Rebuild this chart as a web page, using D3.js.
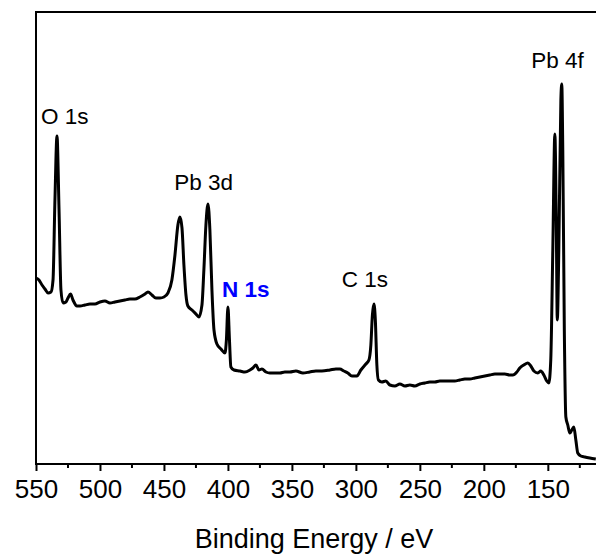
<!DOCTYPE html>
<html>
<head>
<meta charset="utf-8">
<script src="https://cdn.jsdelivr.net/npm/d3@7"></script>
<style>
  body { margin: 0; background: #fff; }
  svg text { font-family: Arial, "Liberation Sans", sans-serif; }
</style>
</head>
<body>
<div id="chart"></div>
<script>
// XPS survey spectrum, intensity in arbitrary units
const bindingEnergy = [
  550, 547.7, 545.3, 543, 540.6, 538.3, 536.7, 535.2, 533.6, 532, 530.5, 528.9, 526.6, 525, 523, 521.1,
  518, 515.6, 511.7, 507.8, 503.9, 500, 496.1, 492.2, 488.3, 484.4, 480.5, 476.6, 472.7, 468.8, 464.8,
  462.5, 459.4, 456.3, 453.1, 450, 446.9, 443.8, 441.4, 439.1, 437.5, 435.9, 434.4, 432.8, 431.3, 428.1,
  425, 422.7, 420.3, 418.8, 417.2, 415.6, 414.1, 412.5, 410.9, 408.6, 405.5, 402.3, 401.2, 400, 398.8,
  397.7, 395.3, 390.6, 386.7, 382.8, 380.5, 378.1, 375.8, 373.4, 370.3, 367.2, 363.3, 359.4, 355.5,
  351.6, 346.9, 341.4, 336.1, 331.3, 326.6, 320.3, 315.6, 312.5, 309.4, 306.3, 303.1, 299.2, 296.1,
  292.2, 289.8, 288.3, 287.1, 285.9, 284.8, 283.6, 282.4, 279.7, 276.6, 273.4, 269.5, 265.6, 261.7,
  257.8, 253.9, 250, 246.1, 242.2, 238.3, 234.4, 230.5, 226.6, 222.7, 218.8, 214.8, 210.9, 207, 203.1,
  199.2, 195.3, 191.4, 187.5, 183.6, 179.7, 177.3, 174.2, 171.9, 168.8, 165.6, 163.3, 160.9, 157.8,
  155.5, 153.1, 150.8, 149.2, 147.7, 146.1, 144.5, 143.4, 142.6, 141.4, 139.8, 139.1, 138.3, 137.1,
  135.9, 134.4, 132.8, 131.3, 129.7, 128.1, 126.6, 124.2, 121.1, 117.2, 112.5
];
const intensity = [
  46.5, 46, 44.75, 43.75, 42.75, 43, 46, 66, 82, 63.5, 43.5, 40.25, 40.5, 41.5, 42.5, 41,
  39.5, 39.5, 39.75, 40, 40, 40.5, 40.75, 40.25, 40.5, 40.75, 41, 41.25, 41.25, 41.75, 42.5,
  43, 42.25, 41.5, 41.5, 41.75, 42.75, 46, 52.25, 59.75, 61.75, 59, 49.75, 42.25, 39.5, 38.5,
  37.5, 36.75, 39.75, 48.5, 59.75, 65, 58.5, 43.5, 33.5, 30, 28.75, 27.75, 31, 39.25, 31,
  24.25, 23.5, 23.25, 23, 23.5, 24, 24.75, 23.5, 23.75, 23, 22.75, 22.75, 22.75, 23,
  23, 23.25, 22.75, 23, 23.25, 23.25, 23.5, 23.75, 23.75, 23.25, 22.75, 22, 22, 23.5,
  25, 26, 29.75, 37.25, 40, 36, 24.75, 21, 20.5, 20.75, 19.75, 19.5, 20, 19.5,
  19.75, 19.5, 20, 20.25, 20.5, 20.5, 20.75, 20.75, 20.75, 20.75, 21, 21.25, 21.25, 21.5, 21.75,
  22, 22.25, 22.5, 22.5, 22.5, 22.25, 22.25, 23, 24, 24.75, 25.25, 24.5, 23.25, 22.75,
  23.25, 22.25, 20.75, 20.25, 26, 53.5, 82.5, 61, 36, 53.5, 91, 95, 78.5, 33.5,
  11.75, 9.75, 7.75, 8.5, 9.25, 6, 2.75, 2, 1.75, 1.5, 1.25
];
const xTicks = [550, 500, 450, 400, 350, 300, 250, 200, 150];
const peakLabels = ["O 1s", "Pb 3d", "N 1s", "C 1s", "Pb 4f"];
const peakEnergy = [527.5, 419, 386, 293, 142.5];
const peakHeight = [85, 68.5, 41.75, 44.25, 99];

const width = 596, height = 557;
const margin = {left: 36, top: 12, bottom: 93};
const innerH = height - margin.top - margin.bottom;

const svg = d3.select("#chart").append("svg")
    .attr("width", width)
    .attr("height", height);

const x = d3.scaleLinear().domain([550, 110]).range([margin.left, 599]);
const y = d3.scaleLinear().domain([0, 113]).range([margin.top + innerH, margin.top]);

const data = bindingEnergy.map((e, i) => ({e: e, v: intensity[i]}));

const line = d3.line()
    .x(d => x(d.e))
    .y(d => y(d.v))
    .curve(d3.curveMonotoneX);

svg.append("path")
    .datum(data)
    .attr("d", line)
    .attr("fill", "none")
    .attr("stroke", "#000")
    .attr("stroke-width", 3)
    .attr("stroke-linejoin", "round");

// frame
svg.append("rect")
    .attr("x", x(550))
    .attr("y", y(113))
    .attr("width", x(110) - x(550))
    .attr("height", y(0) - y(113))
    .attr("fill", "none")
    .attr("stroke", "#000")
    .attr("stroke-width", 2);

// bottom axis
const xAxis = d3.axisBottom(x)
    .tickValues(xTicks)
    .tickSize(7)
    .tickPadding(9)
    .tickFormat(d3.format("d"));

const gx = svg.append("g")
    .attr("transform", `translate(0,${y(0)})`)
    .call(xAxis);
gx.select(".domain").remove();
gx.selectAll(".tick line").attr("stroke-width", 2);
gx.selectAll(".tick text")
    .attr("font-size", 26)
    .attr("fill", "#000")
    .style("font-family", "Arial, 'Liberation Sans', sans-serif");

const minor = d3.range(525, 110, -50);
svg.append("g").selectAll("line")
    .data(minor)
    .enter().append("line")
    .attr("x1", d => x(d)).attr("x2", d => x(d))
    .attr("y1", y(0)).attr("y2", y(0) + 4)
    .attr("stroke", "#000")
    .attr("stroke-width", 2);

svg.append("text")
    .attr("x", 314)
    .attr("y", 548)
    .attr("text-anchor", "middle")
    .attr("font-size", 27)
    .text("Binding Energy / eV");

// peak labels
svg.append("g").selectAll("text")
    .data(peakLabels)
    .enter().append("text")
    .attr("x", (d, i) => x(peakEnergy[i]))
    .attr("y", (d, i) => y(peakHeight[i]))
    .attr("text-anchor", "middle")
    .attr("font-size", 22.5)
    .attr("font-weight", d => d === "N 1s" ? "bold" : "normal")
    .attr("fill", d => d === "N 1s" ? "#0000ff" : "#000")
    .text(d => d);
</script>
</body>
</html>
